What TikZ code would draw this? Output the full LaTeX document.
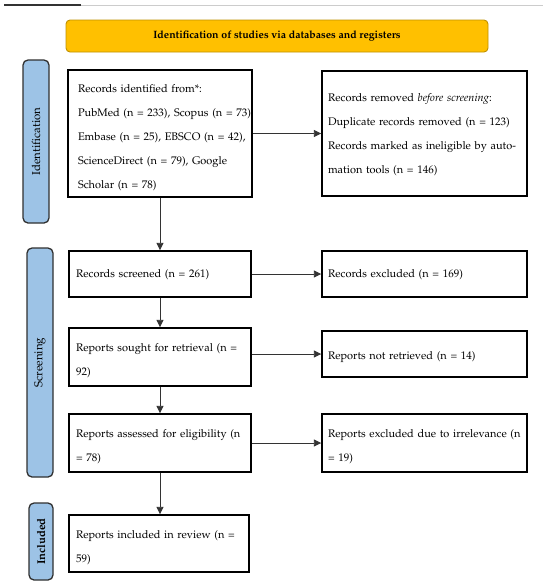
\documentclass[tikz,border=0pt]{standalone}
\usepackage[T1]{fontenc}
\usepackage{mathpazo}
\usetikzlibrary{arrows.meta,calc}
\definecolor{hdrfill}{HTML}{FFC000}
\definecolor{hdrdraw}{HTML}{BF9000}
\definecolor{sidefill}{HTML}{9DC3E6}
\definecolor{sidedraw}{HTML}{303030}
\definecolor{arrowcol}{HTML}{333333}
\newcommand\lowr[1]{\rule{0pt}{#1pt}}
\tikzset{
  box/.style={draw=black, line width=1.4pt, fill=white, inner ysep=0pt, align=left,
    font=\fontsize{11}{24}\selectfont},
  sidelbl/.style={draw=sidedraw, line width=1.3pt, fill=sidefill, rounded corners=5pt,
    inner sep=0pt},
  sidetxt/.style={rotate=90, font=\fontsize{11.5}{13}\selectfont},
  hdr/.style={draw=hdrdraw, line width=0.9pt, fill=hdrfill, rounded corners=4pt,
    font=\bfseries\fontsize{10.6}{12}\selectfont},
  arr/.style={draw=arrowcol, line width=0.9pt, -{Triangle[length=7.5pt,width=7pt]}},
}
\begin{document}
\begin{tikzpicture}[x=1pt,y=-1pt]
\useasboundingbox (0,0) rectangle (550,587);
% page decoration lines
\draw[line width=1.3pt, black!80] (4,5) -- (81,5);
\draw[line width=0.6pt, black!20] (81,5) -- (543,5);
% header
\node[hdr, minimum width=422pt, minimum height=32pt] (hdr) at (277,36)
  {Identification of studies via databases and registers};
% side labels
\node[sidelbl, minimum width=26pt, minimum height=163pt] (sid) at (36,141.5) {};
\node[sidetxt] (sidt) at (sid.center) {Identification};
\node[sidelbl, minimum width=26pt, minimum height=229pt] (sscr) at (40,362.5) {};
\node[sidetxt] (sscrt) at (sscr.center) {Screening};
\node[sidelbl, minimum width=24pt, minimum height=77pt] (sinc) at (41,541.5) {};
\node[sidetxt, font=\bfseries\fontsize{11.3}{13}\selectfont] (sinct) at (sinc.center) {Included};
% boxes
\node[box, inner xsep=10pt, minimum width=184pt, minimum height=127pt, text width=164pt] (b1) at (160,133.5)
  {\lowr{15.5}\mbox{Records identified from*:}\\
   \mbox{PubMed (n = 233), Scopus (n = 73)}\\
   \mbox{Embase (n = 25), EBSCO (n = 42),}\\
   \mbox{ScienceDirect (n = 79), Google}\\
   \mbox{Scholar (n = 78)}};
\node[box, inner xsep=6pt, minimum width=205pt, minimum height=125pt, text width=193pt] (b2) at (424.5,133.5)
  {\lowr{9.5}Records removed \textit{before screening}:\\
   Duplicate records removed (n = 123)\\
   Records marked as ineligible by auto-\\
   mation tools (n = 146)};
\node[box, inner xsep=7pt, minimum width=182pt, minimum height=46pt, text width=168pt] (b3) at (160,274)
  {\lowr{10}Records screened (n = 261)};
\node[box, inner xsep=6pt, minimum width=205pt, minimum height=46pt, text width=193pt] (b4) at (424.5,274)
  {\lowr{9.5}Records excluded (n = 169)};
\node[box, inner xsep=7pt, minimum width=182pt, minimum height=58pt, text width=168pt] (b5) at (160,357)
  {\lowr{15.5}Reports sought for retrieval (n =\\ 92)};
\node[box, inner xsep=6pt, minimum width=205pt, minimum height=46pt, text width=193pt] (b6) at (424.5,354)
  {\lowr{13.5}Reports not retrieved (n = 14)};
\node[box, inner xsep=7pt, minimum width=182pt, minimum height=58pt, text width=168pt] (b7) at (160,443)
  {\lowr{16}Reports assessed for eligibility (n\\ = 78)};
\node[box, inner xsep=6pt, minimum width=205pt, minimum height=58pt, text width=193pt] (b8) at (424.5,443)
  {\lowr{15}\makebox[192pt][s]{Reports excluded due to irrelevance (n}\\ = 19)};
\node[box, inner xsep=7pt, minimum width=180pt, minimum height=57pt, text width=166pt] (b9) at (159,543.5)
  {\lowr{15.5}Reports included in review (n =\\ 59)};
% arrows
\draw[arr] (b1.east) -- (b2.west);
\draw[arr] (b1.south) -- (b3.north);
\draw[arr] (b3.east) -- (b4.west);
\draw[arr] (b3.south) -- (b5.north);
\draw[arr] (b5.east |- b6.west) -- (b6.west);
\draw[arr] (b5.south) -- (b7.north);
\draw[arr] (b7.east) -- (b8.west);
\draw[arr] (b7.south) -- (b7.south |- b9.north);
\end{tikzpicture}
\end{document}
